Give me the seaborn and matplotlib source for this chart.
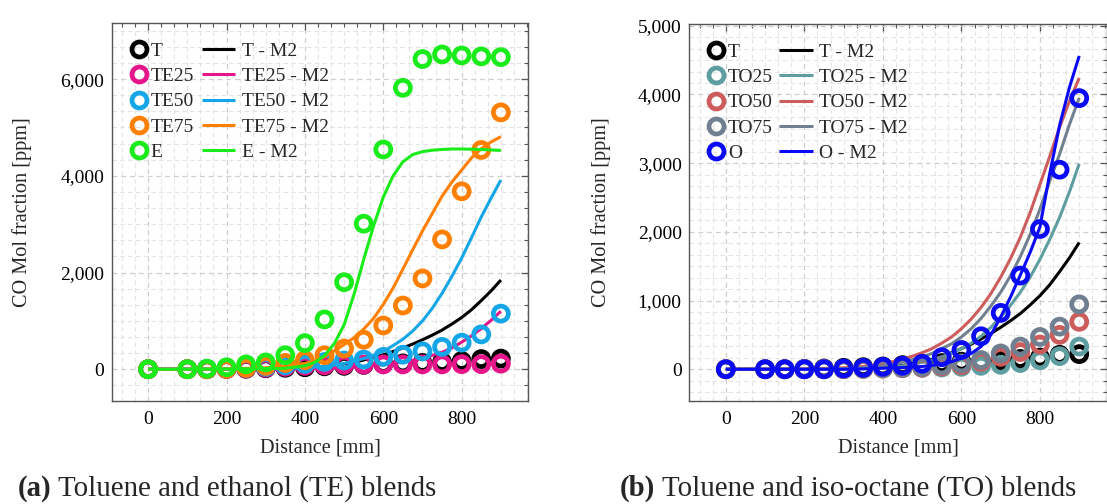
import matplotlib
matplotlib.use("Agg")
import matplotlib.pyplot as plt
from matplotlib.lines import Line2D
from matplotlib.ticker import MultipleLocator, FuncFormatter
import seaborn as sns

# ---------------------------------------------------------------- data
# measurement positions along the reactor [mm]
distance = [0, 100, 150, 200, 250, 300, 350, 400, 450, 500, 550, 600, 650,
            700, 750, 800, 850, 900]
# model (M2) evaluation positions [mm]
model_distance = [0, 100, 200, 300, 350, 400, 425, 450, 475, 500, 525, 550,
                  575, 600, 625, 650, 675, 700, 725, 750, 775, 800, 825, 850,
                  875, 900]

# measured CO mole fraction [ppm]
co_T = [0, 0, 0, 5, 10, 20, 30, 40, 60, 70, 90, 110, 120, 130, 150, 170, 210, 220]
co_TE25 = [0, 0, 0, 5, 15, 30, 50, 70, 80, 90, 95, 100, 100, 100, 100, 105, 105, 115]
co_TE50 = [0, 0, 10, 20, 30, 50, 80, 110, 150, 180, 200, 255, 300, 370, 462, 550, 720, 1150]
co_TE75 = [0, 0, 0, 10, 30, 70, 130, 186, 290, 428, 610, 905, 1318, 1878, 2685, 3680, 4535, 5312]
co_E = [0, 0, 10, 40, 100, 140, 290, 540, 1030, 1800, 3010, 4545, 5820, 6415, 6510, 6490, 6470, 6455]
co_TO25 = [0, 0, 0, 0, 0, 0, 5, 10, 15, 20, 25, 35, 50, 65, 90, 130, 190, 330]
co_TO50 = [0, 0, 0, 0, 0, 0, 5, 10, 15, 25, 40, 60, 110, 180, 250, 360, 500, 690]
co_TO75 = [0, 0, 0, 0, 0, 5, 10, 15, 20, 35, 55, 85, 135, 230, 330, 470, 620, 945]
co_O = [0, 0, 0, 0, 0, 10, 20, 35, 50, 80, 175, 280, 480, 820, 1363, 2041, 2904, 3946]

# model M2 CO mole fraction [ppm]
m2_T = [0, 0, 0, 5, 15, 30, 40, 55, 80, 110, 145, 190, 240, 300, 365, 440, 520,
        610, 705, 810, 935, 1070, 1230, 1420, 1620, 1845]
m2_TE25 = [0, 0, 0, 0, 5, 10, 15, 20, 25, 35, 45, 60, 75, 95, 120, 150, 185,
           230, 285, 350, 440, 560, 690, 840, 1010, 1200]
m2_TE50 = [0, 0, 0, 5, 15, 30, 45, 60, 85, 120, 165, 220, 290, 370, 490, 620,
           790, 1000, 1260, 1570, 1920, 2300, 2720, 3150, 3540, 3914]
m2_TE75 = [0, 0, 5, 30, 60, 120, 170, 260, 380, 510, 650, 830, 1050, 1340,
           1680, 2070, 2470, 2860, 3220, 3580, 3870, 4120, 4370, 4560, 4700, 4810]
m2_E = [0, 0, 5, 10, 20, 70, 140, 280, 530, 920, 1540, 2270, 2960, 3560, 4000,
        4290, 4440, 4500, 4530, 4545, 4555, 4555, 4550, 4545, 4535, 4525]
m2_TO25 = [0, 0, 0, 5, 10, 25, 35, 50, 70, 100, 135, 180, 230, 300, 380, 480,
           610, 760, 930, 1120, 1340, 1600, 1890, 2210, 2580, 2990]
m2_TO50 = [0, 0, 5, 20, 40, 80, 110, 150, 190, 240, 300, 380, 470, 590, 730,
           900, 1100, 1340, 1610, 1920, 2280, 2690, 3100, 3520, 3900, 4240]
m2_TO75 = [0, 0, 0, 10, 25, 50, 75, 105, 140, 180, 230, 300, 370, 470, 590,
           740, 920, 1120, 1360, 1640, 1960, 2330, 2740, 3130, 3560, 3950]
m2_O = [0, 0, 0, 0, 5, 15, 20, 25, 30, 40, 55, 80, 110, 160, 230, 330, 500,
        760, 1050, 1370, 1700, 2070, 2850, 3550, 4100, 4560]

labels_a = ["T", "TE25", "TE50", "TE75", "E"]
labels_b = ["T", "TO25", "TO50", "TO75", "O"]
colors_a = ["#000000", "#e6168a", "#14a6e6", "#ff8000", "#1aeb1a"]
colors_b = ["#000000", "#5f9ea0", "#cd5c5c", "#708090", "#0a0af5"]

# ---------------------------------------------------------------- style
sns.set_theme(style="white")
plt.rcParams["font.family"] = ["Liberation Serif", "DejaVu Serif"]
plt.rcParams["axes.unicode_minus"] = False

FS = 14          # tick and legend text
LFS = 14.6       # axis labels
CAP = 20.8       # caption text
MS = 10.8        # ring diameter [pt]
MEW = 3.4        # ring thickness [pt]
LW = 2.2         # model line width [pt]
SPINE = "#555555"
EM = FS * 100 / 72

W, H = 1107, 504
fig = plt.figure(figsize=(W / 100, H / 100), dpi=100)
ax_a = fig.add_axes([111.7 / W, 1 - 400.7 / H, 416.6 / W, 377.7 / H])
ax_b = fig.add_axes([689.3 / W, 1 - 400.7 / H, 417.4 / W, 376.7 / H])


def draw_panel(ax, labels, colors, marks, models, ylim, ystep):
    z = 3
    for lab, col, mk, md in zip(labels, colors, marks, models):
        sns.scatterplot(x=distance, y=mk, ax=ax, marker="o", s=MS ** 2,
                        color=col, facecolor="none", edgecolor=col,
                        linewidth=MEW, legend=False, zorder=z, clip_on=False)
        sns.lineplot(x=model_distance, y=md, ax=ax, color=col, linewidth=LW,
                     legend=False, zorder=z + 1, solid_capstyle="butt")
        z += 2

    ax.set_xlim(-93, 970)
    ax.set_ylim(*ylim)
    ax.xaxis.set_major_locator(MultipleLocator(200))
    ax.xaxis.set_minor_locator(MultipleLocator(200 / 6))
    ax.yaxis.set_major_locator(MultipleLocator(ystep))
    ax.yaxis.set_minor_locator(MultipleLocator(ystep / 6))
    ax.yaxis.set_major_formatter(FuncFormatter(lambda v, p: f"{v:,.0f}"))
    ax.xaxis.set_major_formatter(FuncFormatter(lambda v, p: f"{v:,.0f}"))

    ax.set_axisbelow(True)
    ax.grid(which="major", color="#cfcfcf", linestyle=(0, (4, 3)), linewidth=0.9)
    ax.grid(which="minor", color="#e4e4e4", linestyle=(0, (4, 3)), linewidth=0.8)
    ax.tick_params(which="both", direction="in", top=True, right=True,
                   color=SPINE, labelsize=FS, labelcolor="black")
    ax.tick_params(which="major", length=5, width=0.9, pad=5.5)
    ax.tick_params(which="minor", length=2.8, width=0.8)
    ax.tick_params(axis="x", which="major", pad=7.5)
    for s in ax.spines.values():
        s.set_color(SPINE)
        s.set_linewidth(1.0)

    ax.set_xlabel("Distance [mm]", fontsize=LFS)
    ax.set_ylabel("CO Mol fraction [ppm]", fontsize=LFS)
    ax.xaxis.label.set_va("center")
    ax.yaxis.label.set_va("center")

    # two legend columns: measurement rings and model lines
    ring_handles = [Line2D([], [], ls="none", marker="o", ms=MS, mew=MEW,
                           mfc="none", mec=c) for c in colors]
    line_handles = [Line2D([], [], color=c, lw=LW, solid_capstyle="butt")
                    for c in colors]
    width_px = ax.get_position().width * W
    height_px = ax.get_position().height * H
    common = dict(loc="upper left", frameon=False, fontsize=FS,
                  borderpad=0, borderaxespad=0, labelspacing=0.39,
                  handleheight=0.7)
    leg1 = ax.legend(ring_handles, labels,
                     bbox_to_anchor=(19.5 / width_px, 1 - 19.5 / height_px),
                     handlelength=15 / EM, handletextpad=4 / EM, **common)
    ax.add_artist(leg1)
    ax.legend(line_handles, [f"{l} - M2" for l in labels],
              bbox_to_anchor=(90 / width_px, 1 - 19.5 / height_px),
              handlelength=33.3 / EM, handletextpad=6.7 / EM, **common)


draw_panel(ax_a, labels_a, colors_a,
           [co_T, co_TE25, co_TE50, co_TE75, co_E],
           [m2_T, m2_TE25, m2_TE50, m2_TE75, m2_E],
           (-651, 7161), 2000)
draw_panel(ax_b, labels_b, colors_b,
           [co_T, co_TO25, co_TO50, co_TO75, co_O],
           [m2_T, m2_TO25, m2_TO50, m2_TO75, m2_O],
           (-458, 5025), 1000)

ax_a.yaxis.set_label_coords((22 - 111.7) / 416.6, 0.5)
ax_b.yaxis.set_label_coords((601 - 689.3) / 417.4, 0.5)
ax_a.xaxis.set_label_coords(0.5, (400.7 - 448) / 377.7)
ax_b.xaxis.set_label_coords(0.5, (400.7 - 448) / 376.7)

# sub-figure captions with a bold tag
fig.canvas.draw()
renderer = fig.canvas.get_renderer()


def caption(xc, yb, tag, rest):
    t1 = fig.text(0, yb, tag, fontsize=CAP, fontweight="bold", va="baseline")
    t2 = fig.text(0, yb, rest, fontsize=CAP, va="baseline")
    gap = 0.25 * CAP * 100 / 72
    w1 = t1.get_window_extent(renderer).width
    w2 = t2.get_window_extent(renderer).width
    x0 = xc - (w1 + gap + w2) / 2
    t1.set_x(x0 / W)
    t2.set_x((x0 + w1 + gap) / W)


caption(227, (H - 496) / H, "(a)", "Toluene and ethanol (TE) blends")
caption(848, (H - 496) / H, "(b)", "Toluene and iso-octane (TO) blends")

fig.savefig("out.png", dpi=100)
